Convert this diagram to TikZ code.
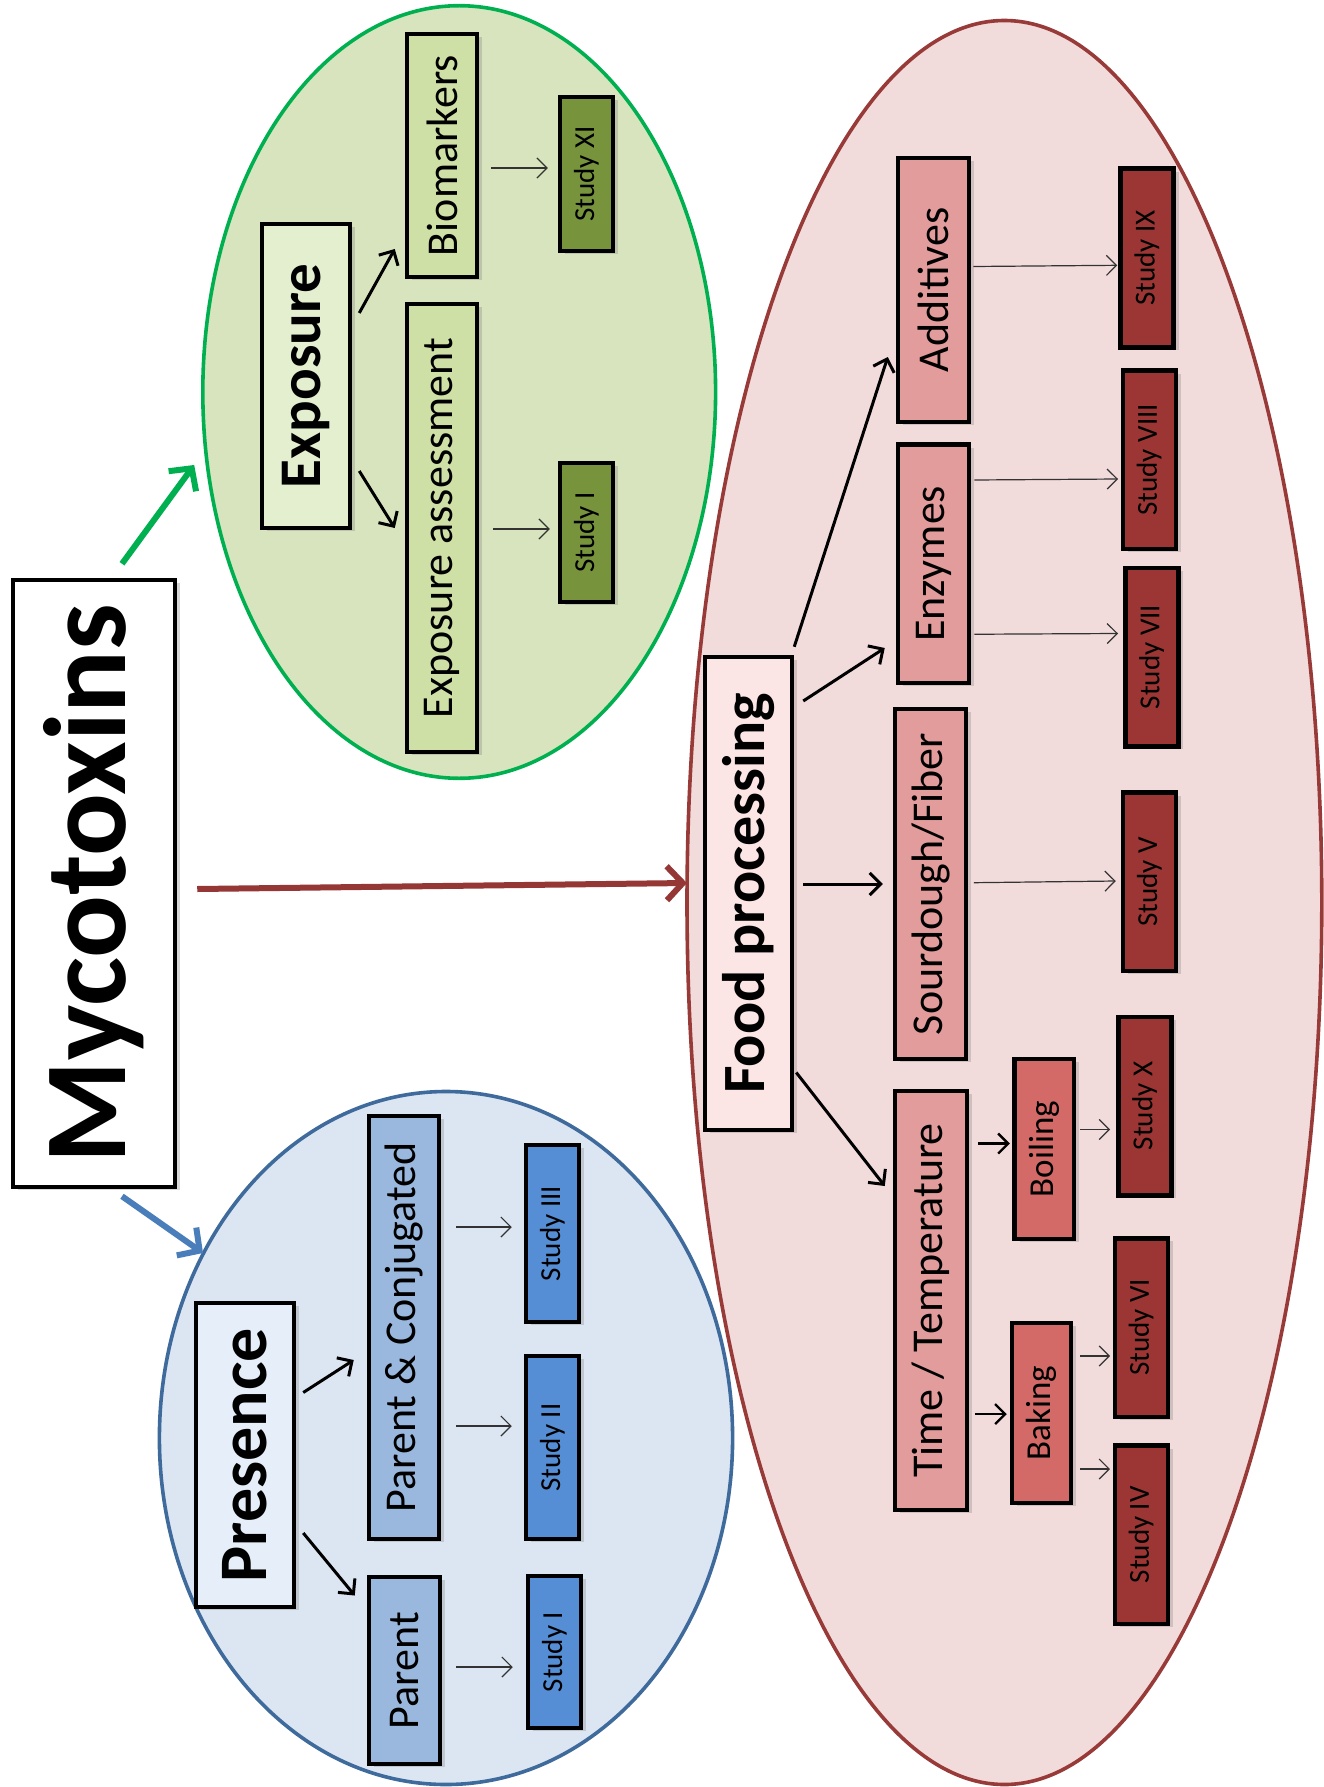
\documentclass[tikz,border=0pt]{standalone}
\usepackage{fontspec}
\setmainfont{Carlito}
\usepackage{graphicx}
\usetikzlibrary{arrows.meta,calc,shapes.geometric,shadows}
\definecolor{gEllF}{HTML}{D7E4BD}
\definecolor{gEllD}{HTML}{00B050}
\definecolor{gTop}{HTML}{E4EFD0}
\definecolor{gMid}{HTML}{CFE0A6}
\definecolor{gStudy}{HTML}{77933C}
\definecolor{bEllF}{HTML}{DCE6F2}
\definecolor{bEllD}{HTML}{3F6A9C}
\definecolor{bTop}{HTML}{E5EEF9}
\definecolor{bMid}{HTML}{9AB8DE}
\definecolor{bStudy}{HTML}{558ED5}
\definecolor{rEllF}{HTML}{F2DCDB}
\definecolor{rEllD}{HTML}{973A38}
\definecolor{rTop}{HTML}{FCE5E5}
\definecolor{rMid}{HTML}{E39C9C}
\definecolor{rLow}{HTML}{D46A68}
\definecolor{rStudy}{HTML}{9B3634}
\definecolor{bigBlue}{HTML}{4A7EBB}
\definecolor{bigGreen}{HTML}{00B050}
\definecolor{bigRed}{HTML}{953735}
\definecolor{thinArr}{HTML}{333333}
\newcommand\vtext[2]{\rotatebox{90}{\fontsize{#1}{#1}\selectfont #2}}
\begin{document}
\begin{tikzpicture}[x=1pt,y=-1pt,
  mybox/.style={draw=black, line width=4.5pt, rectangle, inner sep=0pt,
    drop shadow={shadow xshift=5pt, shadow yshift=-3pt, opacity=0.3}},
  ell/.style={ellipse, line width=3.6pt, inner sep=0pt},
  bigarr/.style={line width=6pt, -{Straight Barb[length=16pt,width=34pt]}},
  medarr/.style={line width=3pt, black, -{Straight Barb[length=11pt,width=22pt]}},
  smallarr/.style={line width=2.3pt, black, -{Straight Barb[length=10pt,width=20pt]}},
  thinarr/.style={line width=1.2pt, thinArr, -{Straight Barb[length=10pt,width=20pt]}},
  stdy/.style={mybox, minimum width=53pt, minimum height=178.5pt}
]
\useasboundingbox (0,0) rectangle (1323,1787);
\fill[white] (0,0) rectangle (1323,1787);

% ---------- ellipses ----------
\node[ell, draw=gEllD, fill=gEllF, minimum width=512.8pt, minimum height=772.6pt] (greenell) at (459.2,392) {};
\node[ell, draw=bEllD, fill=bEllF, minimum width=573.2pt, minimum height=693pt] (blueell) at (446,1438) {};
\node[ell, draw=rEllD, fill=rEllF, minimum width=634.8pt, minimum height=1764pt] (redell) at (1004.4,902.5) {};

% ---------- main ----------
\node[mybox, fill=white, minimum width=162pt, minimum height=607pt] (myco) at (94,883.5)
  {\vtext{117}{\textbf{Mycotoxins}}};

% ---------- exposure (green) ----------
\node[mybox, fill=gTop, minimum width=88pt, minimum height=304pt] (expo) at (306,376)
  {\vtext{59}{\textbf{Exposure}}};
\node[mybox, fill=gMid, minimum width=70pt, minimum height=243pt] (bio) at (442,155.5)
  {\vtext{44}{Biomarkers}};
\node[mybox, fill=gMid, minimum width=70pt, minimum height=448pt] (expass) at (442,528)
  {\vtext{44}{Exposure assessment}};
\node[mybox, fill=gStudy, minimum width=53pt, minimum height=154pt] (sXI) at (586.5,174)
  {\vtext{29}{Study XI}};
\node[mybox, fill=gStudy, minimum width=53pt, minimum height=139pt] (sIg) at (586.5,532.5)
  {\vtext{29}{Study I}};

% ---------- presence (blue) ----------
\node[mybox, fill=bTop, minimum width=98pt, minimum height=304pt] (pres) at (245,1455)
  {\vtext{68}{\textbf{Presence}}};
\node[mybox, fill=bMid, minimum width=70pt, minimum height=423pt] (pc) at (404,1327.5)
  {\vtext{44}{Parent \& Conjugated}};
\node[mybox, fill=bMid, minimum width=71pt, minimum height=187pt] (parent) at (404.5,1670.5)
  {\vtext{44}{Parent}};
\node[mybox, fill=bStudy, minimum width=53pt, minimum height=177pt] (sIII) at (552.5,1233.5)
  {\vtext{29}{Study III}};
\node[mybox, fill=bStudy, minimum width=53pt, minimum height=183pt] (sII) at (552.5,1447.5)
  {\vtext{29}{Study II}};
\node[mybox, fill=bStudy, minimum width=53pt, minimum height=152pt] (sIb) at (554.5,1652)
  {\vtext{29}{Study I}};

% ---------- food processing (red) ----------
\node[mybox, fill=rTop, minimum width=87pt, minimum height=473pt] (food) at (748.5,893.5)
  {\vtext{60}{\textbf{Food processing}}};
\node[mybox, fill=rMid, minimum width=71pt, minimum height=264pt] (add) at (933.5,290)
  {\vtext{44}{Additives}};
\node[mybox, fill=rMid, minimum width=71pt, minimum height=238.5pt] (enz) at (933.5,563.75)
  {\vtext{44}{Enzymes}};
\node[mybox, fill=rMid, minimum width=71pt, minimum height=350pt] (sour) at (930.5,884)
  {\vtext{44}{Sourdough/Fiber}};
\node[mybox, fill=rMid, minimum width=72pt, minimum height=419pt] (time) at (931,1300.5)
  {\vtext{44}{Time / Temperature}};
\node[mybox, fill=rLow, minimum width=59.5pt, minimum height=180pt] (boil) at (1044.25,1149)
  {\vtext{35}{Boiling}};
\node[mybox, fill=rLow, minimum width=59pt, minimum height=180pt] (bake) at (1041.5,1413)
  {\vtext{35}{Baking}};
\node[stdy, fill=rStudy] (sIX) at (1147,258) {\vtext{29}{Study IX}};
\node[stdy, fill=rStudy] (sVIII) at (1149.25,459.75) {\vtext{29}{Study VIII}};
\node[stdy, fill=rStudy] (sVII) at (1151.75,657) {\vtext{29}{Study VII}};
\node[stdy, fill=rStudy] (sV) at (1149.5,881.75) {\vtext{29}{Study V}};
\node[stdy, fill=rStudy] (sX) at (1144.75,1106) {\vtext{29}{Study X}};
\node[stdy, fill=rStudy] (sVI) at (1141.25,1327.5) {\vtext{29}{Study VI}};
\node[stdy, fill=rStudy] (sIV) at (1141.25,1534.75) {\vtext{29}{Study IV}};

% ---------- big arrows ----------
\draw[bigarr, bigGreen] ($(myco.north)+(28,-14)$) -- ($(greenell.center)+(-265,73)$);
\draw[bigarr, bigRed] ($(myco.east)+(20,5.5)$) -- ($(redell.center)+(-317.5,-19.5)$);
\draw[bigarr, bigBlue] ($(myco.south)+(28,7)$) -- ($(blueell.center)+(-243,-185)$);

% ---------- green arrows ----------
\draw[medarr] ($(expo.east)+(7,-63)$) -- ($(bio.west)+(-10,93.5)$);
\draw[medarr] ($(expo.east)+(7,95)$) -- ($(expass.west)+(-10,0)$);
\draw[thinarr] ($(bio.east)+(12,12.5)$) -- ($(sXI.west)+(-10,-6)$);
\draw[thinarr] ($(expass.east)+(14,1)$) -- ($(sIg.west)+(-8,-3.5)$);

% ---------- blue arrows ----------
\draw[medarr] ($(pres.east)+(7,-62.5)$) -- ($(pc.west)+(-13,32.5)$);
\draw[medarr] ($(pres.east)+(7,78)$) -- ($(parent.west)+(-12,-75)$);
\draw[thinarr] ($(pc.east)+(15,-100.5)$) -- ($(sIII.west)+(-12,-6.5)$);
\draw[thinarr] ($(pc.east)+(15,98.5)$) -- ($(sII.west)+(-12,-21.5)$);
\draw[thinarr] ($(parent.east)+(14,-3.5)$) -- ($(sIb.west)+(-13,15)$);

% ---------- red arrows ----------
\draw[medarr] ($(food.north east)+(0,-8)$) -- ($(add.west)+(-8,67)$);
\draw[medarr] ($(food.east)+(9,-192.5)$) -- ($(enz.west)+(-11,84.25)$);
\draw[medarr] ($(food.east)+(9,-9.5)$) -- ($(sour.west)+(-10,0)$);
\draw[medarr] ($(food.east)+(2,179)$) -- ($(time.west)+(-8,-114.5)$);
\draw[thinarr] ($(add.east)+(2,-23.5)$) -- ($(sIX.west)+(-1,7.3)$);
\draw[thinarr] ($(enz.east)+(3,-83.75)$) -- ($(sVIII.west)+(-2.5,19.25)$);
\draw[thinarr] ($(enz.east)+(3,70.5)$) -- ($(sVII.west)+(-5,-23.5)$);
\draw[thinarr] ($(sour.east)+(5.5,-1.3)$) -- ($(sV.west)+(-5,-0.75)$);
\draw[smallarr] ($(time.east)+(9,-157)$) -- ($(boil.west)+(-2.5,-5.5)$);
\draw[smallarr] ($(time.east)+(6,113.5)$) -- ($(bake.west)+(-3,1)$);
\draw[thinarr] ($(boil.east)+(4,-19.5)$) -- ($(sX.west)+(-6,23.5)$);
\draw[thinarr] ($(bake.east)+(7,-57)$) -- ($(sVI.west)+(-2.5,28.5)$);
\draw[thinarr] ($(bake.east)+(7,56)$) -- ($(sIV.west)+(-2.5,-65.75)$);
\end{tikzpicture}
\end{document}
